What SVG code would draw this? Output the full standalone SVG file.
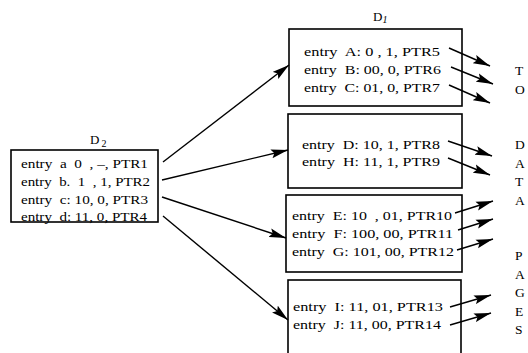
<svg xmlns="http://www.w3.org/2000/svg" width="528" height="353" viewBox="0 0 528 353">
<style>
text{font-family:"Liberation Serif","Times New Roman",serif;font-size:13px;fill:#000}
.box{fill:none;stroke:#000;stroke-width:1.6}
.conn line{stroke:#000;stroke-width:1.4}
.lt{font-size:13.5px}
</style>
<defs>
<marker id="ah" viewBox="0 0 17 10" refX="17" refY="5" markerWidth="17" markerHeight="10" markerUnits="userSpaceOnUse" orient="auto">
<path d="M0,0.5 L17,5 L0,9.5 L3,5 Z" fill="#000"/>
</marker>
</defs>
<rect width="528" height="353" fill="#fff"/>
<g id="D2">
<text x="90" y="144">D<tspan font-size="10" dy="3" dx="2">2</tspan></text>
<rect class="box" x="11" y="150" width="147" height="72"/>
<text x="21" y="168" textLength="127" lengthAdjust="spacingAndGlyphs" xml:space="preserve">entry  a  0  , –, PTR1</text>
<text x="21" y="186" textLength="129" lengthAdjust="spacingAndGlyphs" xml:space="preserve">entry  b.  1  , 1, PTR2</text>
<text x="21" y="204" textLength="127" lengthAdjust="spacingAndGlyphs" xml:space="preserve">entry  c: 10, 0, PTR3</text>
<text x="21" y="221" textLength="126" lengthAdjust="spacingAndGlyphs" xml:space="preserve">entry  d: 11, 0, PTR4</text>
</g>
<g id="D1">
<text x="373" y="21">D<tspan font-size="10" font-style="italic" dy="2">1</tspan></text>
<rect class="box" x="289" y="29" width="173" height="77"/>
<text x="304" y="56" textLength="136" lengthAdjust="spacingAndGlyphs" xml:space="preserve">entry  A: 0 , 1, PTR5</text>
<text x="304" y="74" textLength="137" lengthAdjust="spacingAndGlyphs" xml:space="preserve">entry  B: 00, 0, PTR6</text>
<text x="304" y="92" textLength="136" lengthAdjust="spacingAndGlyphs" xml:space="preserve">entry  C: 01, 0, PTR7</text>
</g>
<g id="box2">
<rect class="box" x="288" y="114" width="174" height="74"/>
<text x="302" y="149" textLength="138" lengthAdjust="spacingAndGlyphs" xml:space="preserve">entry  D: 10, 1, PTR8</text>
<text x="302" y="166" textLength="138" lengthAdjust="spacingAndGlyphs" xml:space="preserve">entry  H: 11, 1, PTR9</text>
</g>
<g id="box3">
<rect class="box" x="286" y="195" width="176" height="77"/>
<text x="292" y="220" textLength="160" lengthAdjust="spacingAndGlyphs" xml:space="preserve">entry  E: 10  , 01, PTR10</text>
<text x="292" y="238" textLength="161" lengthAdjust="spacingAndGlyphs" xml:space="preserve">entry  F: 100, 00, PTR11</text>
<text x="292" y="256" textLength="162" lengthAdjust="spacingAndGlyphs" xml:space="preserve">entry  G: 101, 00, PTR12</text>
</g>
<g id="box4">
<rect class="box" x="288" y="280" width="173" height="85"/>
<text x="293" y="311" textLength="150" lengthAdjust="spacingAndGlyphs" xml:space="preserve">entry  I: 11, 01, PTR13</text>
<text x="293" y="329" textLength="148" lengthAdjust="spacingAndGlyphs" xml:space="preserve">entry  J: 11, 00, PTR14</text>
</g>
<g id="pages-label">
<text class="lt" x="515" y="75">T</text>
<text class="lt" x="515" y="93.5">O</text>
<text class="lt" x="515" y="149">D</text>
<text class="lt" x="515" y="167.5">A</text>
<text class="lt" x="515" y="186">T</text>
<text class="lt" x="515" y="204.5">A</text>
<text class="lt" x="515" y="260">P</text>
<text class="lt" x="515" y="278.5">A</text>
<text class="lt" x="515" y="297">G</text>
<text class="lt" x="515" y="315.5">E</text>
<text class="lt" x="515" y="334">S</text>
</g>
<g class="conn" id="connectors">
<line x1="163" y1="162" x2="289" y2="65" marker-end="url(#ah)"/>
<line x1="162" y1="180" x2="288" y2="150" marker-end="url(#ah)"/>
<line x1="162" y1="197" x2="286" y2="238" marker-end="url(#ah)"/>
<line x1="163" y1="216" x2="288" y2="320" marker-end="url(#ah)"/>
<line x1="449" y1="48" x2="490" y2="66" marker-end="url(#ah)"/>
<line x1="451" y1="67" x2="493" y2="84" marker-end="url(#ah)"/>
<line x1="449" y1="85" x2="490" y2="103" marker-end="url(#ah)"/>
<line x1="448" y1="141" x2="492" y2="156" marker-end="url(#ah)"/>
<line x1="448" y1="158" x2="490" y2="175" marker-end="url(#ah)"/>
<line x1="455" y1="213" x2="493" y2="201" marker-end="url(#ah)"/>
<line x1="458" y1="230" x2="493" y2="219" marker-end="url(#ah)"/>
<line x1="457" y1="250" x2="493" y2="239" marker-end="url(#ah)"/>
<line x1="450" y1="307" x2="491" y2="295" marker-end="url(#ah)"/>
<line x1="450" y1="325" x2="491" y2="313" marker-end="url(#ah)"/>
</g>
</svg>
